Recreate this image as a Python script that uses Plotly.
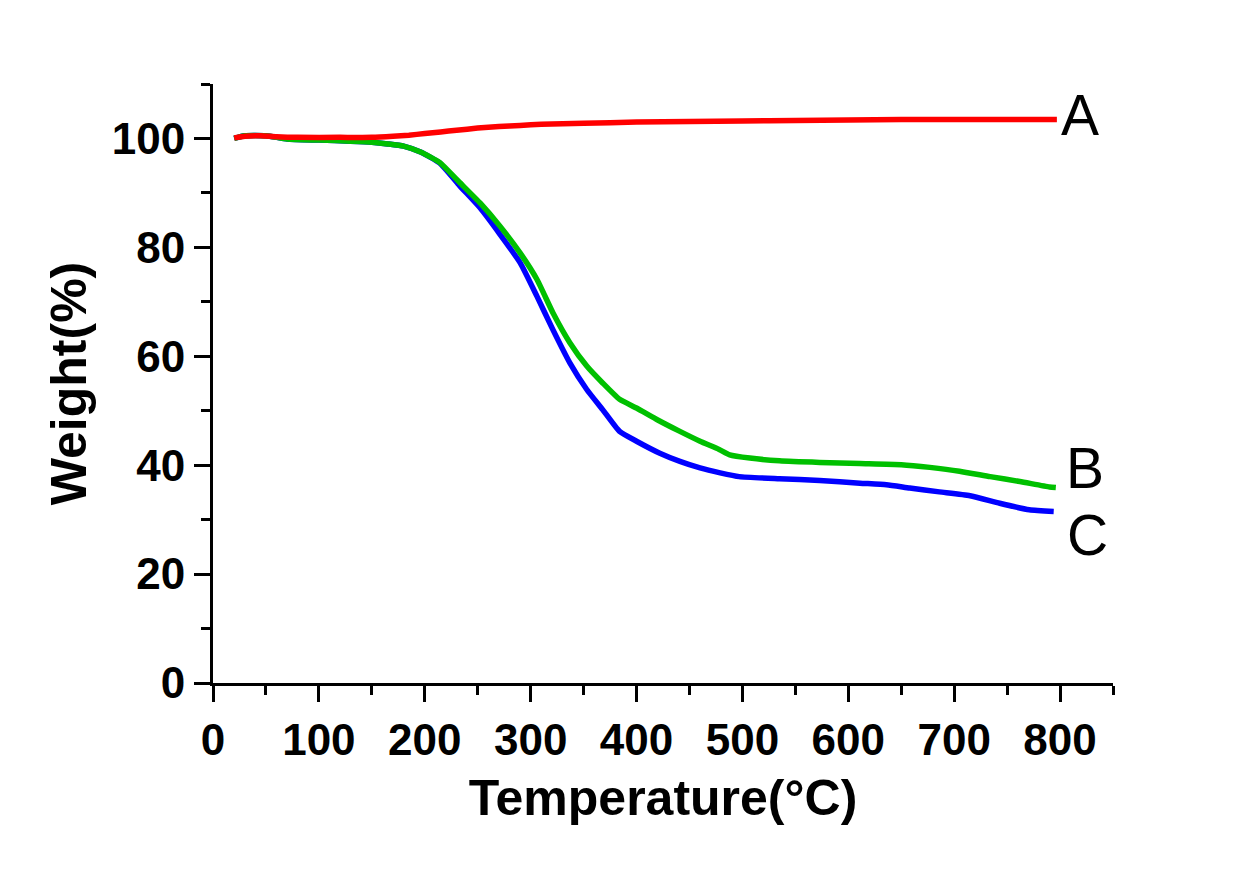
import plotly.graph_objects as go

# Series A (red)
temp_a = [20, 30, 45, 60, 80, 120, 150, 170, 185, 200, 215, 230, 250, 270, 290, 310, 350, 400, 450, 500, 550, 600, 650, 700, 750, 797]
weight_a = [100.1, 100.4, 100.5, 100.3, 100.2, 100.2, 100.2, 100.4, 100.6, 100.9, 101.2, 101.5, 101.9, 102.2, 102.4, 102.6, 102.8, 103.0, 103.1, 103.2, 103.3, 103.4, 103.5, 103.5, 103.5, 103.5]

# Series B (green)
temp_b = [20, 30, 50, 70, 100, 130, 150, 165, 180, 196, 214, 233, 252, 271, 290, 306, 321, 337, 353, 368, 384, 400, 420, 440, 460, 478, 488, 507, 535, 573, 611, 650, 677, 705, 734, 762, 790, 796]
weight_b = [100.0, 100.5, 100.5, 99.9, 99.7, 99.5, 99.3, 99.0, 98.6, 97.5, 95.6, 91.9, 88.2, 83.9, 79.0, 74.1, 68.0, 62.5, 58.2, 55.1, 52.1, 50.5, 48.3, 46.3, 44.4, 42.9, 41.9, 41.3, 40.8, 40.5, 40.3, 40.1, 39.6, 38.9, 37.9, 37.0, 36.0, 35.9]

# Series C (blue)
temp_c = [20, 30, 50, 70, 100, 130, 150, 165, 180, 196, 214, 233, 252, 271, 290, 306, 321, 337, 353, 368, 384, 400, 422, 441, 460, 479, 497, 535, 573, 611, 636, 658, 686, 715, 743, 771, 794]
weight_c = [100.0, 100.5, 100.5, 99.9, 99.7, 99.5, 99.3, 99.0, 98.6, 97.5, 95.5, 91.3, 87.3, 82.4, 77.2, 71.0, 64.9, 58.8, 53.9, 50.2, 46.2, 44.4, 42.2, 40.7, 39.5, 38.6, 37.9, 37.5, 37.2, 36.7, 36.4, 35.8, 35.1, 34.4, 33.0, 31.8, 31.5]

labels = ["A", "B", "C"]
label_x = [819, 824, 826]
label_y = [104.3, 39.5, 27.2]

x_ticks = [0, 100, 200, 300, 400, 500, 600, 700, 800]
y_ticks = [0, 20, 40, 60, 80, 100]

FONT = "Liberation Sans, Arial, sans-serif"

fig = go.Figure()
fig.add_trace(go.Scatter(x=temp_c, y=weight_c, mode="lines",
                         line=dict(color="#0000FF", width=5.5, shape="spline", smoothing=0.5),
                         showlegend=False))
fig.add_trace(go.Scatter(x=temp_b, y=weight_b, mode="lines",
                         line=dict(color="#00C000", width=5.5, shape="spline", smoothing=0.5),
                         showlegend=False))
fig.add_trace(go.Scatter(x=temp_a, y=weight_a, mode="lines",
                         line=dict(color="#FF0000", width=5.5, shape="spline", smoothing=0.5),
                         showlegend=False))

for t, lx, ly in zip(labels, label_x, label_y):
    fig.add_annotation(x=lx, y=ly, xref="x", yref="y", text=t, showarrow=False,
                       font=dict(family=FONT, size=57, color="black"))

axis_common = dict(
    showline=True, linecolor="black", linewidth=3, mirror=False,
    showgrid=False, zeroline=False,
    ticks="outside", ticklen=16, tickwidth=3, tickcolor="black",
    tickfont=dict(family=FONT, size=44, color="black", weight="bold"),
)

fig.update_xaxes(
    range=[0, 850], tickvals=x_ticks,
    minor=dict(dtick=50, tick0=0, ticks="outside", ticklen=9, tickwidth=3, tickcolor="black"),
    title=dict(text="Temperature(°C)", font=dict(family=FONT, size=50, color="black", weight="bold"), standoff=18),
    **axis_common,
)
fig.update_yaxes(
    range=[0, 110], tickvals=y_ticks,
    minor=dict(dtick=10, tick0=0, ticks="outside", ticklen=9, tickwidth=3, tickcolor="black"),
    title=dict(text="Weight(%)", font=dict(family=FONT, size=50, color="black", weight="bold"), standoff=10),
    **axis_common,
)

fig.update_layout(
    width=1251, height=870,
    margin=dict(l=213, r=138, t=84, b=187),
    plot_bgcolor="white", paper_bgcolor="white",
)

fig.write_html("out.html", config={"displayModeBar": False},
               post_script="document.body.style.margin='0';")
